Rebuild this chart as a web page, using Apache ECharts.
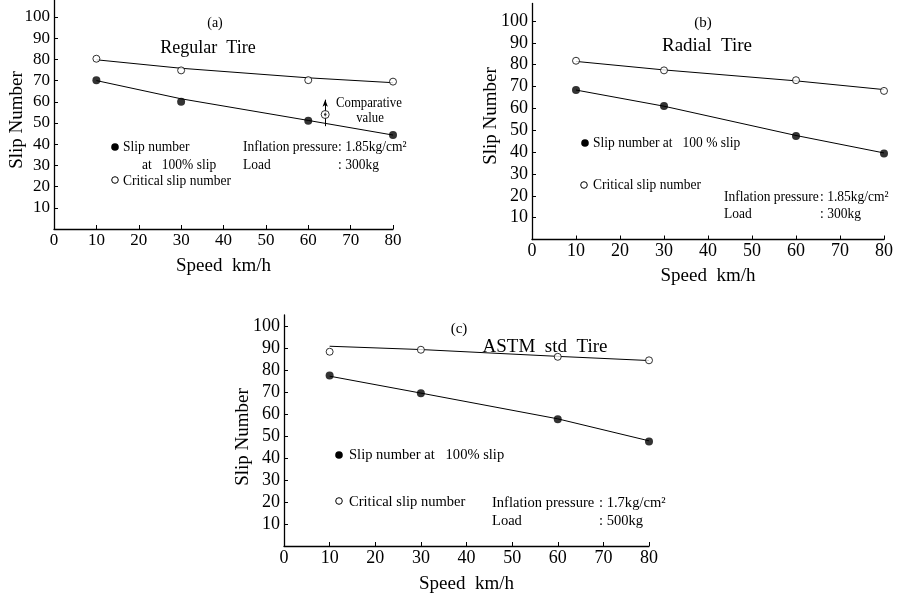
<!DOCTYPE html>
<html>
<head>
<meta charset="utf-8">
<script src="https://cdn.jsdelivr.net/npm/echarts@6/dist/echarts.min.js"></script>
<style>
html,body{margin:0;padding:0;background:#fff;}
#c{width:897px;height:595px;}
</style>
</head>
<body>
<div id="c"></div>
<script>
// ---- data ----
const speeds = [10, 30, 60, 80];
const yTickValues = [10, 20, 30, 40, 50, 60, 70, 80, 90, 100];

// (a) Regular Tire
const critA    = [80.3, 74.8, 70.2, 69.5];
const slipA    = [70.1, 60.0, 51.0, 44.3];
const critFitA = [79.8, 75.8, 71.3, 69.0];
const slipFitA = [70.0, 61.4, 51.2, 44.3];
const compSpeed = 64;
const compValue = 54;
const compArrow = [48.5, 61];

// (b) Radial Tire
const critB    = [81.8, 77.4, 72.9, 68.0];
const slipB    = [68.4, 61.1, 47.4, 39.4];
const critFitB = [81.5, 77.6, 72.6, 68.6];
const slipFitB = [68.4, 61.0, 47.6, 39.6];

// (c) ASTM std Tire
const critC    = [88.3, 89.2, 86.0, 84.4];
const slipC    = [77.5, 69.4, 57.6, 47.5];
const critFitC = [90.8, 89.3, 86.2, 84.3];
const slipFitC = [77.2, 69.5, 57.8, 47.8];

const FONT = 'Liberation Serif';
const pairs = (xs, ys) => xs.map((x, i) => [x, ys[i]]);

function xAxisFor(idx, fs, gap) {
  return {
    gridIndex: idx, type: 'value', min: 0, max: 80, interval: 10,
    name: 'Speed  km/h', nameLocation: 'middle', nameGap: gap,
    nameTextStyle: {fontFamily: FONT, fontSize: 19, color: '#000'},
    axisLine: {lineStyle: {color: '#000', width: 1.3}},
    axisTick: {inside: true, length: 4, lineStyle: {color: '#000'}},
    axisLabel: {fontFamily: FONT, fontSize: fs, color: '#000', margin: 3},
    splitLine: {show: false}
  };
}
function yAxisFor(idx, max, fs) {
  return {
    gridIndex: idx, type: 'value', min: 0, max: max,
    axisLine: {show: true, lineStyle: {color: '#000', width: 1.3}},
    axisTick: {show: true, inside: true, length: 4, customValues: yTickValues, lineStyle: {color: '#000'}},
    axisLabel: {fontFamily: FONT, fontSize: fs, color: '#000', margin: 4, customValues: yTickValues,
      formatter: v => (yTickValues.indexOf(v) >= 0 ? String(v) : '')},
    splitLine: {show: false}
  };
}
function fitLine(idx, vals) {
  return {type: 'line', xAxisIndex: idx, yAxisIndex: idx, data: pairs(speeds, vals),
    showSymbol: false, symbol: 'none', lineStyle: {color: '#000', width: 1}, z: 2, silent: true};
}
function critPts(idx, vals) {
  return {type: 'scatter', xAxisIndex: idx, yAxisIndex: idx, data: pairs(speeds, vals),
    symbol: 'circle', symbolSize: 7, itemStyle: {color: '#fff', borderColor: '#000', borderWidth: 1}, z: 5};
}
function slipPts(idx, vals) {
  return {type: 'scatter', xAxisIndex: idx, yAxisIndex: idx, data: pairs(speeds, vals),
    symbol: 'circle', symbolSize: 8, itemStyle: {color: '#000'}, z: 5};
}

function txt(x, y, s, fs, align, sx) {
  return {type: 'text', x: x, y: y, z: 10, scaleX: sx || 1,
    style: {text: s, fontFamily: FONT, fontSize: fs, fill: '#000',
      textAlign: align || 'left', textVerticalAlign: 'middle'}};
}
function vtxt(x, y, s, fs) {
  return {type: 'text', x: x, y: y, rotation: Math.PI / 2, z: 10,
    style: {text: s, fontFamily: FONT, fontSize: fs, fill: '#000',
      textAlign: 'center', textVerticalAlign: 'middle'}};
}
function dot(x, y, filled) {
  return {type: 'circle', shape: {cx: x, cy: y, r: filled ? 3.8 : 3.3}, z: 10,
    style: filled ? {fill: '#000'} : {fill: '#fff', stroke: '#000', lineWidth: 1}};
}
const L = 15, SQ = 0.9, SC = 0.97;

const option = {
  backgroundColor: '#fff',
  animation: false,
  grid: [
    {left: 54, top: 0, width: 339, height: 229},
    {left: 532, top: 3.5, width: 352, height: 236},
    {left: 284, top: 315, width: 365, height: 242}
  ],
  xAxis: [xAxisFor(0, 17, 28), xAxisFor(1, 18, 27), xAxisFor(2, 18, 29)],
  yAxis: [yAxisFor(0, 108, 17), yAxisFor(1, 108, 18), yAxisFor(2, 105, 18)],
  series: [
    fitLine(0, critFitA), fitLine(0, slipFitA), critPts(0, critA), slipPts(0, slipA),
    {type: 'line', xAxisIndex: 0, yAxisIndex: 0, data: [], silent: true,
      markLine: {silent: true, symbol: ['none', 'arrow'], symbolSize: [4, 7], label: {show: false},
        lineStyle: {color: '#000', width: 1, type: 'solid'},
        data: [[{coord: [compSpeed, compArrow[0]]}, {coord: [compSpeed, compArrow[1]]}]]}},
    {type: 'scatter', xAxisIndex: 0, yAxisIndex: 0, data: [[compSpeed, compValue]],
      symbol: 'circle', symbolSize: 8, itemStyle: {color: '#fff', borderColor: '#000', borderWidth: 1}, z: 6},
    {type: 'scatter', xAxisIndex: 0, yAxisIndex: 0, data: [[compSpeed, compValue]],
      symbol: 'circle', symbolSize: 2.5, itemStyle: {color: '#000'}, z: 7},
    fitLine(1, critFitB), fitLine(1, slipFitB), critPts(1, critB), slipPts(1, slipB),
    fitLine(2, critFitC), fitLine(2, slipFitC), critPts(2, critC), slipPts(2, slipC)
  ],
  graphic: [
    // (a)
    vtxt(17, 120, 'Slip Number', 19),
    txt(215, 23, '(a)', 14, 'center'),
    txt(208, 48, 'Regular  Tire', 18, 'center'),
    txt(336, 103, 'Comparative', L, 'left', 0.85),
    txt(370, 118, 'value', L, 'center', 0.85),
    dot(115, 147, true), txt(123, 147, 'Slip number', L, 'left', SQ),
    txt(142, 165, 'at   100% slip', L, 'left', SQ),
    dot(115, 180, false), txt(123, 181, 'Critical slip number', L, 'left', SQ),
    txt(243, 147, 'Inflation pressure', L, 'left', SQ), txt(338, 147, ': 1.85kg/cm²', L, 'left', SQ),
    txt(243, 165, 'Load', L, 'left', SQ), txt(338, 165, ': 300kg', L, 'left', SQ),
    // (b)
    vtxt(491, 116, 'Slip Number', 19),
    txt(703, 23, '(b)', 15, 'center'),
    txt(707, 46, 'Radial  Tire', 19, 'center'),
    dot(585, 143, true), txt(593, 143, 'Slip number at   100 % slip', L, 'left', SQ),
    dot(584, 185, false), txt(593, 185, 'Critical slip number', L, 'left', SQ),
    txt(724, 197, 'Inflation pressure', L, 'left', SQ), txt(820, 197, ': 1.85kg/cm²', L, 'left', SQ),
    txt(724, 214, 'Load', L, 'left', SQ), txt(820, 214, ': 300kg', L, 'left', SQ),
    // (c)
    vtxt(243, 437, 'Slip Number', 19),
    txt(459, 329, '(c)', 15, 'center'),
    txt(545, 347, 'ASTM  std  Tire', 19, 'center'),
    dot(339, 455, true), txt(349, 455, 'Slip number at   100% slip', L, 'left', SC),
    dot(339, 501, false), txt(349, 502, 'Critical slip number', L, 'left', SC),
    txt(492, 503, 'Inflation pressure', L, 'left', SC), txt(599, 503, ': 1.7kg/cm²', L, 'left', SC),
    txt(492, 521, 'Load', L, 'left', SC), txt(599, 521, ': 500kg', L, 'left', SC)
  ]
};
const chart = echarts.init(document.getElementById('c'), null, {renderer: 'canvas'});
chart.setOption(option);
</script>
</body>
</html>
